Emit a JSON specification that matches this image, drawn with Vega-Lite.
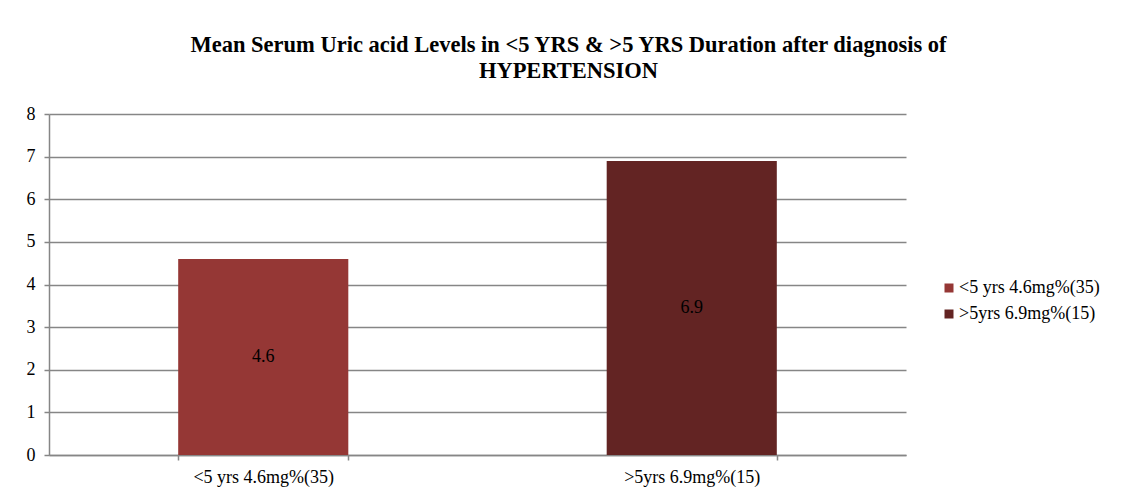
{
  "$schema": "https://vega.github.io/schema/vega-lite/v6.json",
  "autosize": {"type": "none"},
  "width": 857,
  "height": 341,
  "padding": {"left": 49, "top": 114, "right": 215, "bottom": 43},
  "background": "white",
  "title": {
    "text": ["Mean Serum Uric acid Levels in <5 YRS & >5 YRS Duration after diagnosis of", "HYPERTENSION"],
    "font": "Liberation Serif",
    "fontSize": 22.5,
    "fontWeight": "bold",
    "color": "#000000",
    "anchor": "middle",
    "frame": "group",
    "dx": 91,
    "offset": 23,
    "lineHeight": 26
  },
  "data": {
    "values": [
      {"group": "<5 yrs 4.6mg%(35)", "value": 4.6},
      {"group": ">5yrs 6.9mg%(15)", "value": 6.9}
    ]
  },
  "transform": [{"calculate": "datum.value / 2", "as": "label_pos"}],
  "config": {
    "view": {"stroke": null},
    "axis": {
      "labelFont": "Liberation Serif",
      "labelFontSize": 18,
      "labelColor": "#000000",
      "domainColor": "#868686",
      "tickColor": "#868686",
      "gridColor": "#868686",
      "domainWidth": 1.5,
      "tickWidth": 1.5,
      "gridWidth": 1.5,
      "labelOverlap": false
    }
  },
  "encoding": {
    "x": {
      "field": "group",
      "type": "nominal",
      "sort": null,
      "scale": {"paddingInner": 0.603, "paddingOuter": 0.3015},
      "axis": {"title": null, "labelAngle": 0, "tickBand": "extent", "tickSize": 5, "labelPadding": 8, "grid": false}
    }
  },
  "layer": [
    {
      "mark": {"type": "bar"},
      "encoding": {
        "y": {
          "field": "value",
          "type": "quantitative",
          "scale": {"domain": [0, 8]},
          "axis": {"title": null, "values": [0,1,2,3,4,5,6,7,8], "tickSize": 5, "labelPadding": 9, "grid": true}
        },
        "color": {
          "field": "group",
          "type": "nominal",
          "sort": null,
          "scale": {"range": ["#953735", "#632423"]},
          "legend": {
            "title": null,
            "orient": "none",
            "legendX": 891,
            "legendY": 165,
            "symbolType": "square",
            "symbolSize": 81,
            "symbolStrokeWidth": 0,
            "labelFont": "Liberation Serif",
            "labelFontSize": 18,
            "labelColor": "#000000",
            "labelOffset": 1,
            "rowPadding": 8,
            "labelLimit": 300
          }
        }
      }
    },
    {
      "mark": {"type": "text", "font": "Liberation Serif", "fontSize": 18, "color": "#000000", "baseline": "middle"},
      "encoding": {
        "y": {"field": "label_pos", "type": "quantitative", "scale": {"domain": [0, 8]}},
        "text": {"field": "value", "type": "quantitative", "format": ".1f"}
      }
    }
  ]
}
